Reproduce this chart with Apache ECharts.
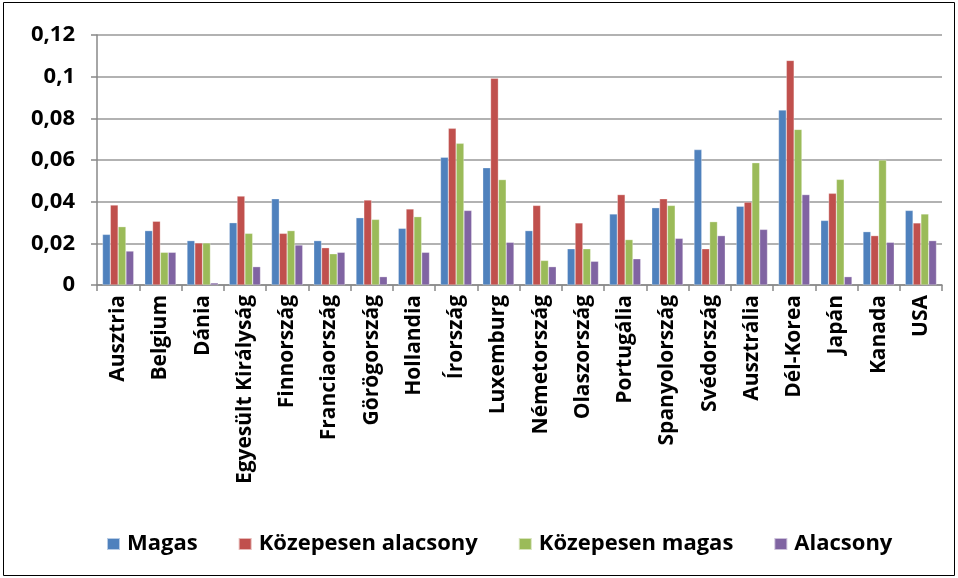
<!DOCTYPE html>
<html>
<head>
<meta charset="utf-8">
<script src="https://cdn.jsdelivr.net/npm/echarts@6/dist/echarts.min.js"></script>
<style>
html,body{margin:0;padding:0;background:#fff;}
#c{width:958px;height:578px;}
</style>
</head>
<body>
<div id="c"></div>
<script>
const categories = ["Ausztria","Belgium","Dánia","Egyesült Királyság","Finnország","Franciaország","Görögország","Hollandia","Írország","Luxemburg","Németország","Olaszország","Portugália","Spanyolország","Svédország","Ausztrália","Dél-Korea","Japán","Kanada","USA"];
const magas = [0.0243,0.0261,0.0213,0.0299,0.0414,0.0213,0.0323,0.0272,0.0613,0.0563,0.0261,0.0174,0.0341,0.0371,0.0650,0.0378,0.0840,0.0310,0.0256,0.0358];
const kozAlacsony = [0.0384,0.0306,0.0202,0.0427,0.0248,0.0179,0.0408,0.0365,0.0752,0.0992,0.0382,0.0298,0.0434,0.0414,0.0174,0.0398,0.1078,0.0440,0.0237,0.0298];
const kozMagas = [0.0280,0.0157,0.0202,0.0248,0.0261,0.0150,0.0315,0.0328,0.0680,0.0506,0.0118,0.0174,0.0218,0.0382,0.0304,0.0587,0.0747,0.0507,0.0600,0.0341];
const alacsony = [0.0163,0.0157,0.0010,0.0088,0.0192,0.0157,0.0040,0.0157,0.0358,0.0205,0.0088,0.0114,0.0126,0.0224,0.0237,0.0267,0.0434,0.0040,0.0205,0.0213];
const seriesNames = ["Magas","Közepesen alacsony","Közepesen magas","Alacsony"];
const colors = ["#4F81BD","#C0504D","#9BBB59","#8064A2"];

const font = "'Open Sans', sans-serif";
const chart = echarts.init(document.getElementById('c'));
const data = [magas,kozAlacsony,kozMagas,alacsony];
chart.setOption({
  animation:false,
  color: colors,
  graphic:[{type:'rect',shape:{x:3.5,y:2.5,width:951,height:573},style:{fill:'none',stroke:'#000',lineWidth:1}}],
  grid:{left:97,right:16,top:35,bottom:293},
  legend:{
    top:528,left:101,itemWidth:13,itemHeight:12,itemGap:40,
    icon:'rect',
    textStyle:{fontFamily:font,fontWeight:700,fontSize:22,color:'#000',padding:[0,0,0,2]},
    data:seriesNames
  },
  xAxis:{
    type:'category',data:categories,
    axisLine:{lineStyle:{color:'#888',width:1.5}},
    axisTick:{show:true,length:6,lineStyle:{color:'#888',width:1.5}},
    axisLabel:{rotate:90,interval:0,fontFamily:font,fontWeight:700,fontSize:21,color:'#000',margin:10}
  },
  yAxis:{
    type:'value',min:0,max:0.12,interval:0.02,
    axisLine:{show:true,lineStyle:{color:'#888',width:1.5}},
    axisTick:{show:true,length:6,lineStyle:{color:'#888',width:1.5}},
    splitLine:{lineStyle:{color:'#999',width:1.5}},
    axisLabel:{fontFamily:font,fontWeight:700,fontSize:22,color:'#000',margin:22,
      formatter:v=>String(Math.round(v*100)/100).replace('.',',')}
  },
  series: seriesNames.map((n,i)=>({
    name:n,type:'bar',data:data[i],barGap:'0%',barCategoryGap:'26%',
    itemStyle:{color:colors[i],borderColor:'rgba(255,255,255,0.6)',borderWidth:0.5}
  }))
});
</script>
</body>
</html>
